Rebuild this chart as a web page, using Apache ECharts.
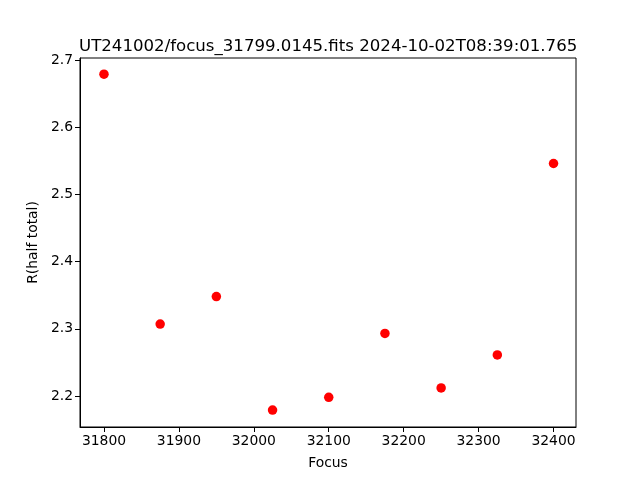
<!DOCTYPE html>
<html>
<head>
<meta charset="utf-8">
<script src="https://cdn.jsdelivr.net/npm/echarts@6/dist/echarts.min.js"></script>
<style>html,body{margin:0;padding:0;background:#fff}#c{width:640px;height:480px}</style>
</head>
<body>
<div id="c"></div>
<script>
const titleText = 'UT241002/focus_31799.0145.fits 2024-10-02T08:39:01.765';
const focus = [31800, 31875, 31950, 32025, 32100, 32175, 32250, 32325, 32400];
const rHalfTotal = [2.679, 2.307, 2.348, 2.179, 2.198, 2.293, 2.212, 2.261, 2.546];
const xLabel = 'Focus';
const yLabel = 'R(half total)';

const points = focus.map((f, i) => [f, rHalfTotal[i]]);
const font = 'DejaVu Sans';
const chart = echarts.init(document.getElementById('c'), null, {renderer: 'canvas'});
chart.setOption({
  animation: false,
  backgroundColor: '#fff',
  title: {
    text: titleText, left: 79, top: 38, padding: 0,
    textStyle: {fontFamily: font, fontSize: 16.6, fontWeight: 'normal', color: '#000'}
  },
  grid: {left: 80, right: 64, top: 58, bottom: 53, show: true, borderColor: '#000', borderWidth: 1, containLabel: false},
  xAxis: {
    type: 'value', min: 31768, max: 32430,
    name: xLabel, nameLocation: 'middle', nameGap: 29,
    nameTextStyle: {fontFamily: font, fontSize: 13.9, color: '#000'},
    axisLine: {show: true, lineStyle: {color: '#000', width: 1}},
    axisTick: {show: true, length: 5, lineStyle: {color: '#000'}},
    axisLabel: {fontFamily: font, fontSize: 13.9, color: '#000', margin: 7, showMinLabel: false, showMaxLabel: false,
      formatter: v => String(Math.round(v))},
    splitLine: {show: false}
  },
  yAxis: {
    type: 'value', min: 2.1538, max: 2.703,
    name: yLabel, nameLocation: 'middle', nameGap: 38,
    nameTextStyle: {fontFamily: font, fontSize: 13.9, color: '#000'},
    axisLine: {show: true, lineStyle: {color: '#000', width: 1}},
    axisTick: {show: true, length: 5, lineStyle: {color: '#000'}},
    axisLabel: {fontFamily: font, fontSize: 13.9, color: '#000', margin: 7, showMinLabel: false, showMaxLabel: false,
      formatter: v => v.toFixed(1)},
    splitLine: {show: false}
  },
  series: [{
    type: 'scatter', data: points, symbol: 'circle', symbolSize: 9.5,
    itemStyle: {color: '#ff0000', opacity: 1}
  }]
});
</script>
</body>
</html>
